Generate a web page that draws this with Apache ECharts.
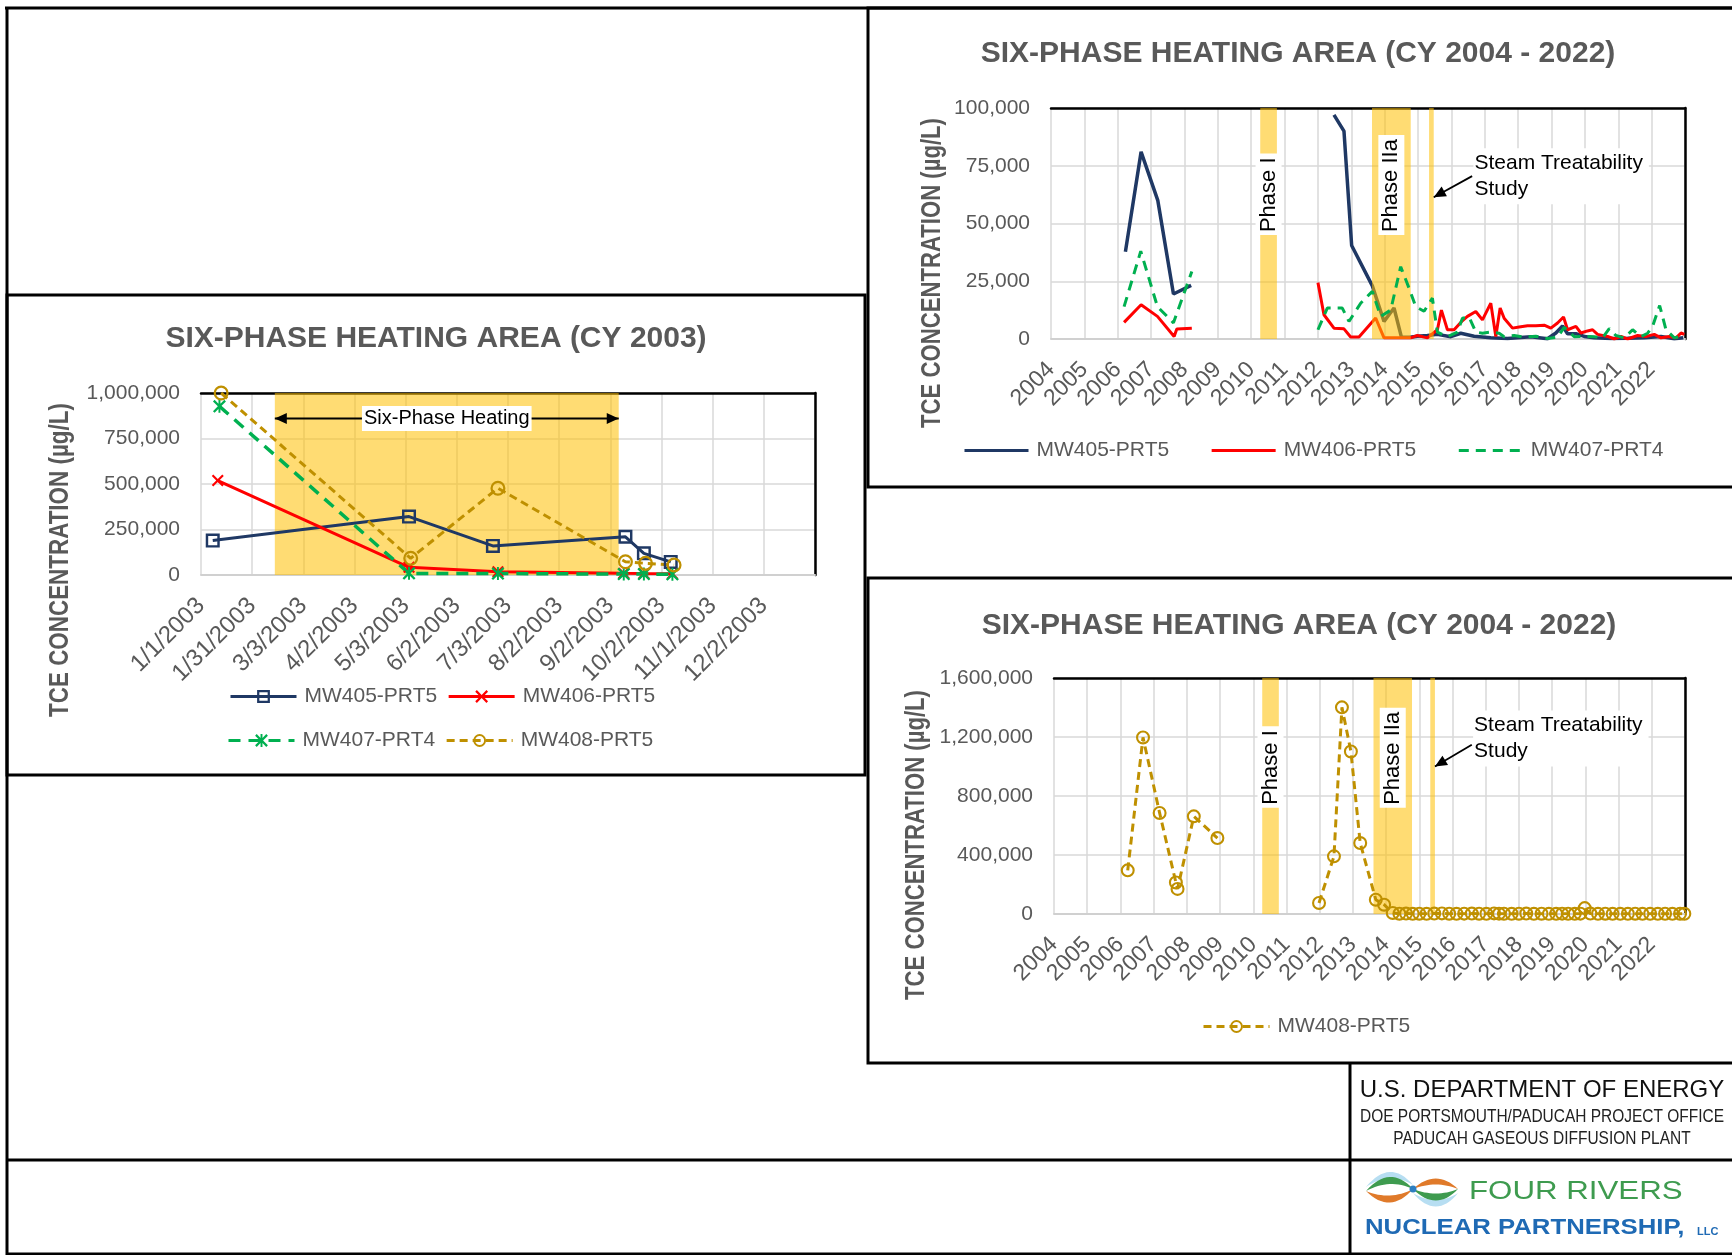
<!DOCTYPE html>
<html>
<head>
<meta charset="utf-8">
<title>Six-Phase Heating Area TCE Concentrations</title>
<script src="https://cdn.jsdelivr.net/npm/echarts@6/dist/echarts.min.js"></script>
<style>
  html, body { margin: 0; padding: 0; background: #ffffff; }
  #chart { width: 1732px; height: 1255px; }
</style>
</head>
<body>
<div id="chart"></div>
<script>
// ---------- CY 2003 sampling events: [date, TCE µg/L] ----------
const mw405_2003 = [['2003-01-08', 189000], ['2003-05-05', 321000], ['2003-06-24', 160000], ['2003-09-11', 210000], ['2003-09-22', 119000], ['2003-10-08', 72000]];
const mw406_2003 = [['2003-01-11', 519000], ['2003-05-05', 42000], ['2003-06-27', 18000], ['2003-09-10', 9000], ['2003-09-22', 8000], ['2003-10-09', 7000]];
const mw407_2003 = [['2003-01-12', 927000], ['2003-05-05', 9000], ['2003-06-27', 8000], ['2003-09-10', 5000], ['2003-09-22', 5000], ['2003-10-09', 4000]];
const mw408_2003 = [['2003-01-13', 1000000], ['2003-05-06', 92000], ['2003-06-27', 477000], ['2003-09-11', 73000], ['2003-09-23', 64000], ['2003-10-10', 55000]];
const heating2003 = ['2003-02-14', '2003-09-07'];
const dateTicks2003 = ['1/1/2003', '1/31/2003', '3/3/2003', '4/2/2003', '5/3/2003', '6/2/2003', '7/3/2003', '8/2/2003', '9/2/2003', '10/2/2003', '11/1/2003', '12/2/2003'];

// ---------- CY 2004 - 2022: [decimal year, TCE µg/L]; null marks the sampling gap ----------
const mw405_long = [
  [2006.23, 37800], [2006.70, 81000], [2007.20, 60000], [2007.67, 19500], [2008.20, 23200],
  [2010.00, null],
  [2012.48, 97000], [2012.78, 90000], [2013.01, 40500], [2013.63, 23000], [2013.98, 7600], [2014.28, 13400],
  [2014.50, 900], [2014.75, 800], [2014.98, 1200], [2015.28, 1500], [2015.58, 2000], [2015.98, 1000],
  [2016.28, 2500], [2016.68, 1200], [2017.18, 500], [2017.68, 200], [2018.38, 1000], [2018.88, 100],
  [2019.13, 2600], [2019.33, 5700], [2019.48, 2300], [2019.73, 2300], [2019.98, 1100], [2020.28, 500],
  [2020.78, 200], [2021.28, 300], [2021.78, 500], [2022.28, 1100], [2022.68, 100], [2022.95, 500]
];
const mw406_long = [
  [2006.19, 7200], [2006.70, 14800], [2007.19, 9800], [2007.69, 1100], [2007.77, 4300], [2008.22, 4700],
  [2010.00, null],
  [2012.00, 24400], [2012.18, 10500], [2012.48, 4700], [2012.78, 4400], [2012.98, 900], [2013.23, 900],
  [2013.73, 9100], [2013.98, 500], [2014.48, 500], [2014.78, 500], [2014.98, 1500], [2015.28, 500],
  [2015.58, 4000], [2015.70, 12500], [2015.88, 4000], [2016.08, 4000], [2016.30, 7500], [2016.48, 9800],
  [2016.73, 11900], [2016.93, 8300], [2017.18, 15500], [2017.33, 1100], [2017.46, 13400], [2017.58, 9000],
  [2017.83, 4700], [2018.03, 5200], [2018.28, 5700], [2018.53, 5700], [2018.78, 6000], [2018.98, 4700],
  [2019.18, 6900], [2019.36, 9500], [2019.48, 4000], [2019.73, 5500], [2019.88, 2600], [2020.08, 3500],
  [2020.23, 4000], [2020.38, 2000], [2020.68, 1100], [2020.88, 0], [2021.08, 1100], [2021.28, 0],
  [2021.58, 1500], [2021.83, 1100], [2022.08, 2000], [2022.28, 500], [2022.53, 1100], [2022.73, 500],
  [2022.88, 2600], [2022.98, 2000]
];
const mw407_long = [
  [2006.19, 14000], [2006.69, 38000], [2007.19, 14000], [2007.67, 7000], [2008.22, 29200],
  [2010.00, null],
  [2012.00, 4000], [2012.28, 13400], [2012.73, 13400], [2012.93, 7600], [2013.28, 15500], [2013.63, 20600],
  [2013.88, 9800], [2014.18, 12500], [2014.48, 31300], [2014.73, 22000], [2014.93, 14000], [2015.18, 12000],
  [2015.43, 17700], [2015.58, 3000], [2015.88, 1000], [2016.18, 3000], [2016.33, 9000], [2016.53, 9500],
  [2016.73, 3000], [2016.93, 2500], [2017.18, 3000], [2017.43, 2500], [2017.58, 1000], [2017.88, 1500],
  [2018.18, 800], [2018.53, 1200], [2018.88, 200], [2019.18, 800], [2019.38, 5000], [2019.68, 1000],
  [2019.98, 1200], [2020.28, 1000], [2020.53, 500], [2020.73, 4500], [2020.93, 1500], [2021.18, 500],
  [2021.43, 4000], [2021.68, 1000], [2021.88, 2500], [2022.03, 5500], [2022.24, 14500], [2022.43, 4000],
  [2022.68, 500], [2022.93, 1200]
];
const mw408_long = [
  [2006.22, 296000], [2006.68, 1197000], [2007.18, 685000], [2007.67, 214000], [2007.72, 170000],
  [2008.21, 662000], [2008.92, 515000],
  [2010.00, null],
  [2011.98, 75000], [2012.43, 391000], [2012.67, 1401000], [2012.94, 1102000], [2013.22, 481000],
  [2013.69, 97000], [2013.94, 63000], [2014.20, 7000], [2014.40, 2000], [2014.60, 3000], [2014.80, 1500],
  [2015.00, 2000], [2015.22, 1500], [2015.45, 3000], [2015.68, 4000], [2015.90, 2000], [2016.12, 1500],
  [2016.35, 2500], [2016.58, 3000], [2016.80, 2000], [2017.02, 1500], [2017.25, 4000], [2017.40, 2500],
  [2017.55, 1800], [2017.78, 1200], [2018.00, 2000], [2018.22, 3000], [2018.45, 1500], [2018.68, 2000],
  [2018.90, 1000], [2019.12, 1500], [2019.30, 2500], [2019.48, 1800], [2019.68, 1200], [2019.85, 2500],
  [2019.98, 40000], [2020.15, 3000], [2020.38, 1500], [2020.60, 2000], [2020.82, 1000], [2021.05, 1500],
  [2021.28, 1200], [2021.50, 2000], [2021.72, 1000], [2021.95, 1500], [2022.18, 1200], [2022.40, 1800],
  [2022.62, 1000], [2022.85, 1500], [2022.98, 1200]
];
const yearTicks = ['2004', '2005', '2006', '2007', '2008', '2009', '2010', '2011', '2012', '2013', '2014', '2015', '2016', '2017', '2018', '2019', '2020', '2021', '2022'];
const remedyPhases = [
  { name: 'Phase I', from: 2010.27, to: 2010.77, labelled: true },
  { name: 'Phase IIa', from: 2013.62, to: 2014.78, labelled: true },
  { name: 'Steam Treatability Study', from: 2015.33, to: 2015.47, labelled: false }
];

// ---------- styling ----------
const FONT = "'Liberation Sans', Arial, Helvetica, sans-serif";
const GRAY = '#595959';
const GRID_LINE = '#D9D9D9';
const BAND = 'rgba(255, 192, 0, 0.55)';
const NAVY = '#1F3864', RED = '#FF0000', GREEN = '#00B050', GOLD = '#BF9000';

// Excel-like markers (open square / ring let the line show through)
const SYM_SQUARE = 'path://M0,0H20V20H0Z M3.5,3.5V16.5H16.5V3.5Z';
const SYM_RING = 'path://M0,10A10,10 0 1,1 20,10A10,10 0 1,1 0,10Z M3,10A7,7 0 1,0 17,10A7,7 0 1,0 3,10Z';
const SYM_X = 'path://M0,2.5L2.5,0L10,7.5L17.5,0L20,2.5L12.5,10L20,17.5L17.5,20L10,12.5L2.5,20L0,17.5L7.5,10Z';
const SYM_STAR = 'path://M0,2.5L2.5,0L10,7.5L17.5,0L20,2.5L12.5,10L20,17.5L17.5,20L10,12.5L2.5,20L0,17.5L7.5,10Z M8.5,0H11.5V20H8.5Z';

const dayOf = s => { const [y, m, d] = s.split('-').map(Number); return (Date.UTC(y, m - 1, d) - Date.UTC(2003, 0, 1)) / 86400000; };
const toDays = arr => arr.map(([d, v]) => [dayOf(d), v]);
const thousands = v => Math.round(v).toLocaleString('en-US');

const grids = [
  { left: 201, top: 393, width: 614, height: 182 },   // CY 2003
  { left: 1051, top: 108, width: 634, height: 231 },  // 2004-2022, MW405/406/407
  { left: 1054, top: 678, width: 631, height: 236 }   // 2004-2022, MW408
];

function mainX(gi, min, max, interval, formatter, fontSize) {
  return {
    gridIndex: gi, type: 'value', min, max, interval,
    axisLine: { show: true, onZero: false, lineStyle: { color: '#D0D0D0', width: 2 } },
    axisTick: { show: false },
    splitLine: { show: true, lineStyle: { color: GRID_LINE, width: 1.5 } },
    axisLabel: { rotate: 45, margin: 27, fontSize, fontFamily: FONT, color: GRAY, formatter, hideOverlap: false, showMinLabel: true, showMaxLabel: true }
  };
}
function edgeX(gi, min, max) {
  return {
    gridIndex: gi, type: 'value', position: 'top', min, max,
    axisLine: { show: true, onZero: false, lineStyle: { color: '#000', width: 2.5 } },
    axisTick: { show: false }, axisLabel: { show: false }, splitLine: { show: false }
  };
}
function mainY(gi, max, interval) {
  return {
    gridIndex: gi, type: 'value', min: 0, max, interval,
    axisLine: { show: false }, axisTick: { show: false },
    splitLine: { show: true, lineStyle: { color: GRID_LINE, width: 1.5 } },
    axisLabel: { margin: 21, fontSize: 21, fontFamily: FONT, color: GRAY, formatter: thousands }
  };
}
function edgeY(gi, max) {
  return {
    gridIndex: gi, type: 'value', position: 'right', min: 0, max,
    axisLine: { show: true, onZero: false, lineStyle: { color: '#000', width: 2.5 } },
    axisTick: { show: false }, axisLabel: { show: false }, splitLine: { show: false }
  };
}

const dateLabel = v => dateTicks2003[Math.round(v / 30.5)] || '';
const yearLabel = v => (Math.abs(v - Math.round(v)) < 1e-6 && yearTicks[Math.round(v) - 2004]) || '';

function line(name, data, gi, color, o) {
  return {
    type: 'line', name, data, xAxisIndex: gi * 2, yAxisIndex: gi * 2,
    color, z: o.z || 2, silent: true, connectNulls: false,
    lineStyle: { color, width: o.width || 3, type: o.dash || 'solid' },
    itemStyle: { color },
    symbol: o.symbol || 'none', symbolSize: o.size || 12, showSymbol: !!o.symbol
  };
}

// shaded remediation windows drawn through the x scale
function bandSeries(gi, bands, z, labelFrac) {
  return {
    type: 'custom', xAxisIndex: gi * 2, yAxisIndex: gi * 2, z, silent: true,
    data: bands.map(b => [b.from, b.to]),
    renderItem(params, api) {
      const cs = params.coordSys;
      const x0 = api.coord([api.value(0), 0])[0];
      const x1 = api.coord([api.value(1), 0])[0];
      const b = bands[params.dataIndex];
      const children = [{ type: 'rect', shape: { x: x0, y: cs.y, width: x1 - x0, height: cs.height }, style: { fill: BAND } }];
      if (b.labelled) {
        children.push({
          type: 'text', x: (x0 + x1) / 2, y: cs.y + cs.height * labelFrac, rotation: Math.PI / 2,
          style: { text: b.name, font: '22px ' + FONT, fill: '#000', align: 'left', verticalAlign: 'middle', backgroundColor: '#fff', padding: [2, 4, 2, 3] }
        });
      }
      return { type: 'group', children };
    }
  };
}

function arrowHead(p, from, len, half) {
  const dx = p[0] - from[0], dy = p[1] - from[1];
  const L = Math.hypot(dx, dy), ux = dx / L, uy = dy / L;
  const bx = p[0] - ux * len, by = p[1] - uy * len;
  return { type: 'polygon', shape: { points: [p, [bx - uy * half, by + ux * half], [bx + uy * half, by - ux * half]] }, style: { fill: '#000' } };
}

// arrow + caption in data coordinates
function noteSeries(gi, note) {
  return {
    type: 'custom', xAxisIndex: gi * 2, yAxisIndex: gi * 2, z: 6, silent: true,
    data: [note.tail],
    renderItem(params, api) {
      const a = api.coord(note.tail), b = api.coord(note.head);
      const children = [
        { type: 'line', shape: { x1: a[0], y1: a[1], x2: b[0], y2: b[1] }, style: { stroke: '#000', lineWidth: 1.8 } },
        arrowHead(b, a, 12, 5.5)
      ];
      if (note.both) children.push(arrowHead(a, b, 12, 5.5));
      const t = note.textAt ? api.coord(note.textAt) : [(a[0] + b[0]) / 2, (a[1] + b[1]) / 2];
      children.push({
        type: 'text', x: t[0], y: t[1],
        style: { text: note.text, font: note.font, fill: '#000', align: note.align, verticalAlign: 'middle', lineHeight: note.lineHeight, backgroundColor: '#fff', padding: note.padding }
      });
      return { type: 'group', children };
    }
  };
}

const series = [
  // CY 2003
  {
    type: 'custom', xAxisIndex: 0, yAxisIndex: 0, z: 1, silent: true,
    data: [[dayOf(heating2003[0]), dayOf(heating2003[1])]],
    renderItem(params, api) {
      const cs = params.coordSys;
      const x0 = api.coord([api.value(0), 0])[0], x1 = api.coord([api.value(1), 0])[0];
      return { type: 'rect', shape: { x: x0, y: cs.y, width: x1 - x0, height: cs.height }, style: { fill: BAND } };
    }
  },
  line('MW405-PRT5', toDays(mw405_2003), 0, NAVY, { symbol: SYM_SQUARE, size: 14, width: 3 }),
  line('MW406-PRT5', toDays(mw406_2003), 0, RED, { symbol: SYM_X, size: 12, width: 3 }),
  line('MW407-PRT4', toDays(mw407_2003), 0, GREEN, { symbol: SYM_STAR, size: 13, width: 3.5, dash: [12, 8] }),
  line('MW408-PRT5', toDays(mw408_2003), 0, GOLD, { symbol: SYM_RING, size: 15, width: 3, dash: [8, 5] }),
  noteSeries(0, {
    tail: [dayOf(heating2003[0]), 860000], head: [dayOf(heating2003[1]), 860000], both: true,
    text: 'Six-Phase Heating', font: '20px ' + FONT, align: 'center', padding: [3, 2, 2, 2]
  }),

  // 2004-2022 upper panel
  line('MW405-PRT5 (2004-2022)', mw405_long, 1, NAVY, { width: 3.5 }),
  line('MW406-PRT5 (2004-2022)', mw406_long, 1, RED, { width: 3 }),
  bandSeries(1, remedyPhases, 3, 0.55),
  line('MW407-PRT4 (2004-2022)', mw407_long, 1, GREEN, { width: 3, dash: [10, 7], z: 4 }),
  noteSeries(1, {
    tail: [2016.62, 70500], head: [2015.47, 61400], textAt: [2016.66, 70500],
    text: 'Steam Treatability\nStudy', font: '21px ' + FONT, lineHeight: 26, align: 'left', padding: [2, 6, 2, 1]
  }),

  // 2004-2022 lower panel
  bandSeries(2, remedyPhases, 1, 0.55),
  line('MW408-PRT5 (2004-2022)', mw408_long, 2, GOLD, { symbol: SYM_RING, size: 14, width: 3, dash: [8, 5], z: 2 }),
  noteSeries(2, {
    tail: [2016.58, 1148000], head: [2015.47, 1000000], textAt: [2016.62, 1190000],
    text: 'Steam Treatability\nStudy', font: '21px ' + FONT, lineHeight: 26, align: 'left', padding: [2, 6, 2, 1]
  })
];

const legendText = { fontSize: 21, fontFamily: FONT, color: GRAY, padding: [0, 0, 0, 3] };
const shortName = n => n.replace(/ \(2004-2022\)$/, '');
const legends = [
  { data: ['MW405-PRT5', 'MW406-PRT5'], left: 229, top: 686, itemWidth: 66, itemHeight: 16, itemGap: 10 },
  { data: ['MW407-PRT4', 'MW408-PRT5'], left: 227, top: 730, itemWidth: 66, itemHeight: 16, itemGap: 10 },
  // plain line keys (no marker) for the long-term panel
  { data: ['MW405-PRT5 (2004-2022)', 'MW406-PRT5 (2004-2022)', 'MW407-PRT4 (2004-2022)'], left: 963, top: 440, itemWidth: 64, itemHeight: 16, itemGap: 41, itemStyle: { opacity: 0 } },
  { data: ['MW408-PRT5 (2004-2022)'], left: 1202, top: 1016, itemWidth: 66, itemHeight: 16, itemGap: 10 }
].map(l => Object.assign(l, { padding: 0, selectedMode: false, formatter: shortName, textStyle: legendText, lineStyle: { width: 3 } }));

// page furniture: frames, titles, axis titles, title block
const frame = (x1, y1, x2, y2) => ({ type: 'line', shape: { x1, y1, x2, y2 }, style: { stroke: '#000', lineWidth: 3 }, silent: true });
const box = (x, y, w, h) => ({ type: 'rect', shape: { x, y, width: w, height: h }, style: { fill: 'none', stroke: '#000', lineWidth: 3 }, silent: true });
const title = (x, y, text) => ({ type: 'text', x, y, style: { text, font: 'bold 30px ' + FONT, fill: GRAY, align: 'center', verticalAlign: 'middle' } });
const yTitle = (x, y, sx) => ({ type: 'text', x, y, rotation: Math.PI / 2, scaleX: sx, style: { text: 'TCE CONCENTRATION (µg/L)', font: 'bold 27px ' + FONT, fill: GRAY, align: 'center', verticalAlign: 'middle' } });

// lens-shaped ribbon lobe for the logo: outer and inner quadratic edges between two tips
function lobe(p0, p2, cOuter, cInner) {
  const q = (a, c, b, t) => [(1 - t) * (1 - t) * a[0] + 2 * (1 - t) * t * c[0] + t * t * b[0], (1 - t) * (1 - t) * a[1] + 2 * (1 - t) * t * c[1] + t * t * b[1]];
  const pts = [];
  for (let i = 0; i <= 16; i++) pts.push(q(p0, cOuter, p2, i / 16));
  for (let i = 16; i >= 0; i--) pts.push(q(p0, cInner, p2, i / 16));
  return pts;
}
const ribbon = (pts, fill) => ({ type: 'polygon', shape: { points: pts }, style: { fill }, silent: true });

const graphic = [
  frame(5, 8, 1740, 8),
  frame(7, 8, 7, 1260),
  box(7, 295, 858, 480),
  box(868, 8, 880, 479),
  box(868, 578, 880, 485),
  frame(7, 1160, 1740, 1160),
  frame(1350, 1063, 1350, 1260),
  frame(7, 1254, 1740, 1254),

  title(436, 339, 'SIX-PHASE HEATING AREA (CY 2003)'),
  title(1298, 54, 'SIX-PHASE HEATING AREA (CY 2004 - 2022)'),
  title(1299, 626, 'SIX-PHASE HEATING AREA (CY 2004 - 2022)'),
  yTitle(61, 560, 0.83),
  yTitle(933, 273, 0.82),
  yTitle(917, 845, 0.82),

  { type: 'text', x: 1542, y: 1090, style: { text: 'U.S. DEPARTMENT OF ENERGY', font: '24px ' + FONT, fill: '#111', align: 'center', verticalAlign: 'middle' } },
  { type: 'text', x: 1542, y: 1117, scaleX: 0.86, style: { text: 'DOE PORTSMOUTH/PADUCAH PROJECT OFFICE', font: '18px ' + FONT, fill: '#222', align: 'center', verticalAlign: 'middle' } },
  { type: 'text', x: 1542, y: 1139, scaleX: 0.86, style: { text: 'PADUCAH GASEOUS DIFFUSION PLANT', font: '18px ' + FONT, fill: '#222', align: 'center', verticalAlign: 'middle' } },

  // Four Rivers mark: two twisted ribbons crossing at the centre
  ribbon(lobe([1366, 1187], [1413, 1185], [1390, 1158], [1390, 1171]), '#B7DEF2'),
  ribbon(lobe([1413, 1193], [1458, 1193], [1436, 1220], [1436, 1207]), '#B7DEF2'),
  ribbon(lobe([1366, 1191], [1413, 1189], [1390, 1164], [1390, 1178]), '#3E9B4F'),
  ribbon(lobe([1413, 1189], [1458, 1189], [1436, 1212], [1436, 1198]), '#3E9B4F'),
  ribbon(lobe([1366, 1191], [1413, 1189], [1390, 1215], [1390, 1201]), '#E07A2A'),
  ribbon(lobe([1413, 1189], [1458, 1189], [1436, 1168], [1436, 1180]), '#E07A2A'),
  { type: 'circle', shape: { cx: 1413, cy: 1189, r: 3.5 }, style: { fill: '#2D7FC1' }, silent: true },
  { type: 'text', x: 1469, y: 1192, scaleX: 1.25, style: { text: 'FOUR RIVERS', font: '25px ' + FONT, fill: '#3E9B4F', align: 'left', verticalAlign: 'middle' } },
  { type: 'text', x: 1365, y: 1228, scaleX: 1.17, style: { text: 'NUCLEAR PARTNERSHIP,', font: 'bold 22px ' + FONT, fill: '#1F6AB4', align: 'left', verticalAlign: 'middle' } },
  { type: 'text', x: 1697, y: 1232, style: { text: 'LLC', font: 'bold 11px ' + FONT, fill: '#1F6AB4', align: 'left', verticalAlign: 'middle' } }
];

const option = {
  animation: false,
  backgroundColor: '#ffffff',
  grid: grids,
  xAxis: [
    mainX(0, 0, 366, 30.5, dateLabel, 24), edgeX(0, 0, 366),
    mainX(1, 2004, 2023, 1, yearLabel, 23), edgeX(1, 2004, 2023),
    mainX(2, 2004, 2023, 1, yearLabel, 23), edgeX(2, 2004, 2023)
  ],
  yAxis: [
    mainY(0, 1000000, 250000), edgeY(0, 1000000),
    mainY(1, 100000, 25000), edgeY(1, 100000),
    mainY(2, 1600000, 400000), edgeY(2, 1600000)
  ],
  legend: legends,
  series,
  graphic: { elements: graphic }
};

const chart = echarts.init(document.getElementById('chart'), null, { renderer: 'canvas' });
chart.setOption(option);
</script>
</body>
</html>
